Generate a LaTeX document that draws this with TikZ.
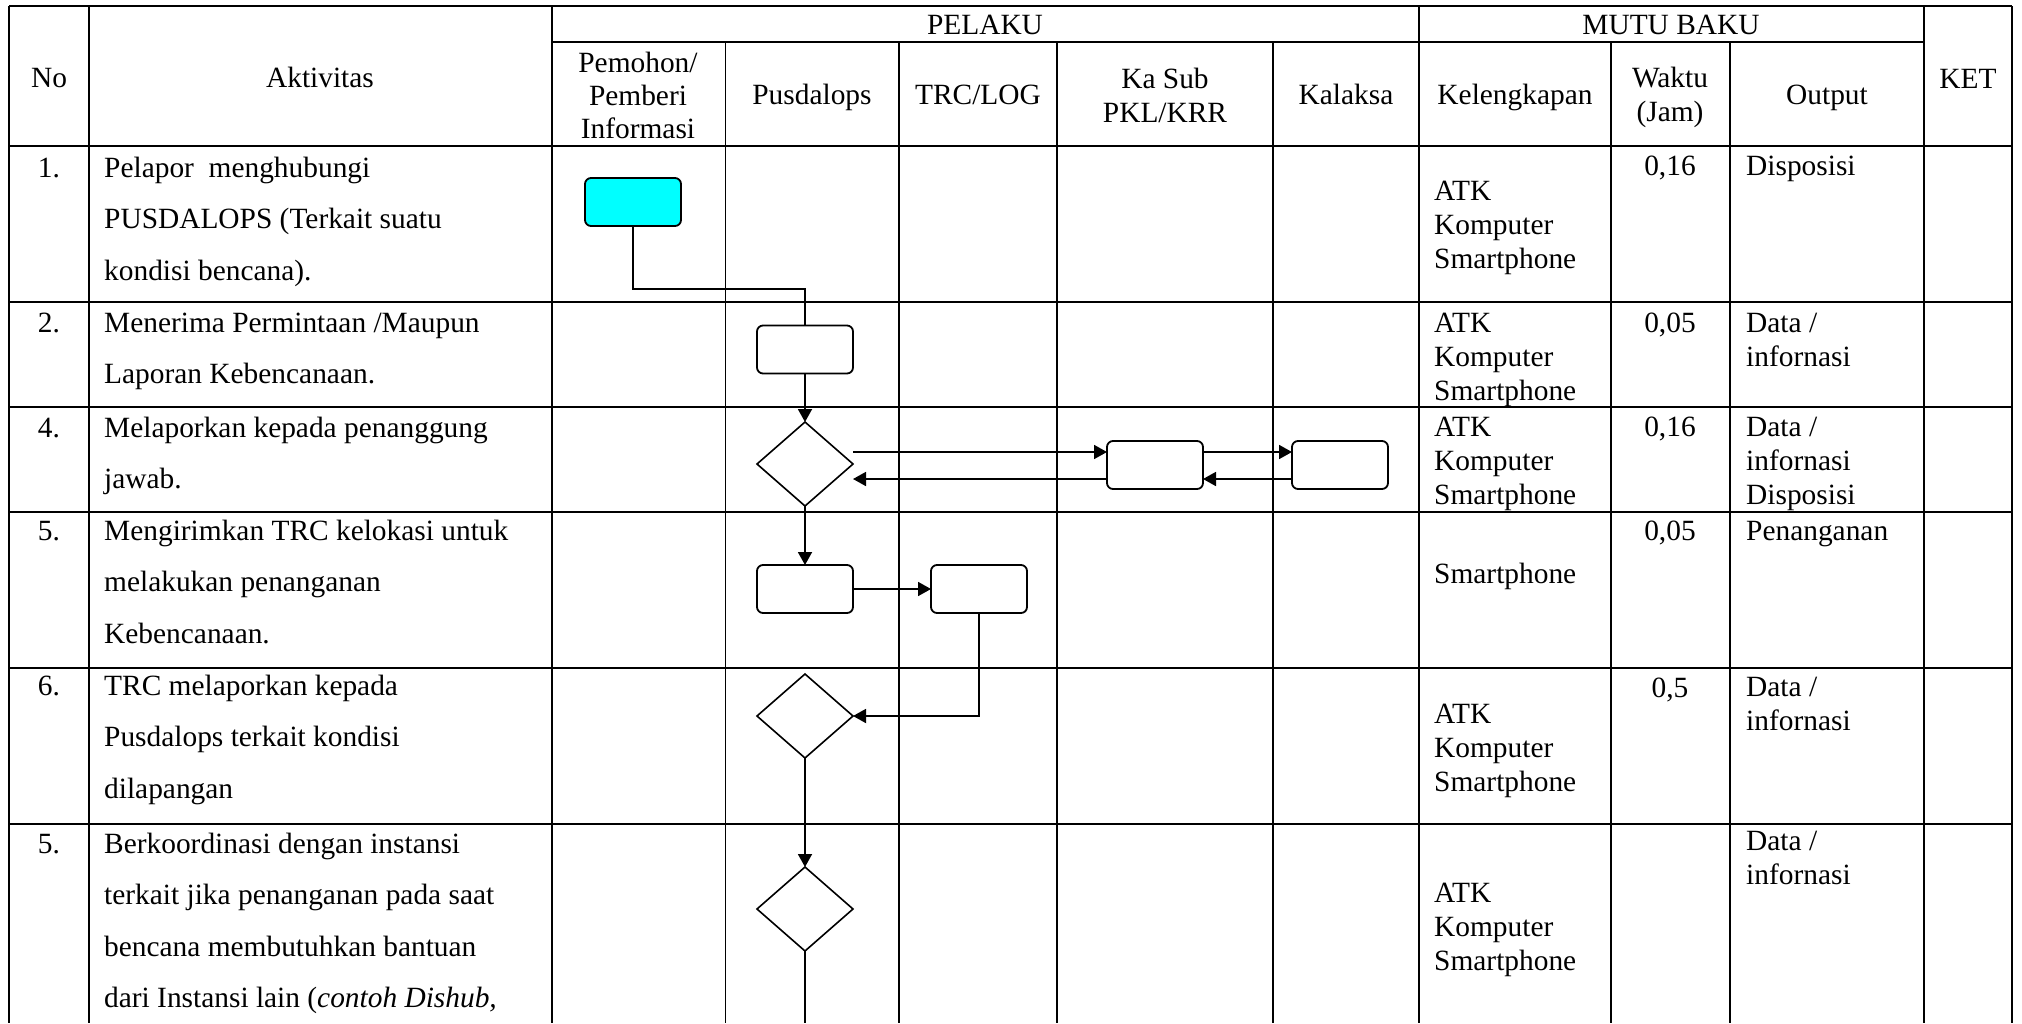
\documentclass[tikz,border=0pt]{standalone}
\usepackage{fontspec}
\setmainfont{Liberation Serif}
\usetikzlibrary{shapes.geometric,arrows.meta,calc}
\definecolor{aqua}{RGB}{0,255,255}
\newcommand{\mylines}[6]{%
  \foreach \t [count=\i from 0] in {#6} \node[#1] (#2-\i) at (#3,{#4+#5*\i}) {\t};}
\begin{document}
\begin{tikzpicture}[x=1bp,y=-1bp,
  grid/.style={line width=1.6bp},
  gridthin/.style={line width=0.9bp},
  hd/.style={font=\fontsize{29.5}{33}\selectfont, inner sep=0pt, anchor=base},
  cell/.style={font=\fontsize{29.5}{34}\selectfont, inner sep=0pt, anchor=base west},
  num/.style={font=\fontsize{29.5}{34}\selectfont, inner sep=0pt, anchor=base},
  proc/.style={draw, line width=1.8bp, rounded corners=6bp, minimum width=96bp, minimum height=48bp, inner sep=0pt, outer sep=0pt},
  dec/.style={draw, diamond, line width=1.6bp, minimum width=96bp, minimum height=84bp, inner sep=0pt, outer sep=0pt},
  arr/.style={line width=1.8bp, -{Triangle[length=13bp,width=14bp]}},
  ln/.style={line width=1.8bp}
]
\fill[white] (0,0) rectangle (2022,1023);
\useasboundingbox (0,0) rectangle (2022,1023);

% ---- table grid ----
\draw[grid] (9,6) -- (2012,6);
\draw[grid] (552,42) -- (1924,42);
\foreach \yy in {146,302,407,512,668,824} \draw[grid] (9,\yy) -- (2012,\yy);
\foreach \xx in {9,89,552,1419,1924,2012} \draw[grid] (\xx,6) -- (\xx,1023);
\foreach \xx in {899,1057,1273,1611,1730} \draw[grid] (\xx,42) -- (\xx,1023);
\draw[gridthin] (725,42) -- (725,1023);

% ---- headers ----
\node[hd] (hNo) at (49,87) {No};
\node[hd] (hAkt) at (320,87) {Aktivitas};
\node[hd] (hPel) at (985,34) {PELAKU};
\node[hd] (hMutu) at (1671,34) {MUTU BAKU};
\node[hd] (hKet) at (1968,88) {KET};
\mylines{hd}{hPem}{638}{72}{33}{Pemohon/,Pemberi,Informasi}
\node[hd] (hPus) at (812,104) {Pusdalops};
\node[hd] (hTrc) at (978,104) {TRC/LOG};
\mylines{hd}{hKa}{1165}{88}{34}{Ka Sub,PKL/KRR}
\node[hd] (hKal) at (1346,104) {Kalaksa};
\node[hd] (hKel) at (1515,104) {Kelengkapan};
\mylines{hd}{hWak}{1670}{87}{34}{Waktu,(Jam)}
\node[hd] (hOut) at (1827,104) {Output};

% ---- row numbers ----
\node[num] (n1) at (49,177) {1.};
\node[num] (n2) at (49,332) {2.};
\node[num] (n3) at (49,437) {4.};
\node[num] (n4) at (49,540) {5.};
\node[num] (n5) at (49,695) {6.};
\node[num] (n6) at (49,853) {5.};

% ---- activities ----
\mylines{cell}{a1}{104}{177}{51.5}{{Pelapor\ \ menghubungi},{PUSDALOPS (Terkait suatu},{kondisi bencana).}}
\mylines{cell}{a2}{104}{332}{51.5}{{Menerima Permintaan /Maupun},{Laporan Kebencanaan.}}
\mylines{cell}{a3}{104}{437}{51.5}{{Melaporkan kepada penanggung},{jawab.}}
\mylines{cell}{a4}{104}{540}{51.5}{{Mengirimkan TRC kelokasi untuk},{melakukan penanganan},{Kebencanaan.}}
\mylines{cell}{a5}{104}{695}{51.5}{{TRC melaporkan kepada},{Pusdalops terkait kondisi},{dilapangan}}
\mylines{cell}{a6}{104}{853}{51.5}{{Berkoordinasi dengan instansi},{terkait jika penanganan pada saat},{bencana membutuhkan bantuan},{dari Instansi lain (\textit{contoh Dishub,}}}

% ---- kelengkapan ----
\mylines{cell}{k1}{1434}{200}{34}{ATK,Komputer,Smartphone}
\mylines{cell}{k2}{1434}{332}{34}{ATK,Komputer,Smartphone}
\mylines{cell}{k3}{1434}{436}{34}{ATK,Komputer,Smartphone}
\node[cell] (k4-0) at (1434,583) {Smartphone};
\mylines{cell}{k5}{1434}{723}{34}{ATK,Komputer,Smartphone}
\mylines{cell}{k6}{1434}{902}{34}{ATK,Komputer,Smartphone}

% ---- waktu ----
\node[num] (w1) at (1670,175) {0,16};
\node[num] (w2) at (1670,332) {0,05};
\node[num] (w3) at (1670,436) {0,16};
\node[num] (w4) at (1670,540) {0,05};
\node[num] (w5) at (1670,697) {0,5};

% ---- output ----
\node[cell] (o1-0) at (1746,175) {Disposisi};
\mylines{cell}{o2}{1746}{332}{34}{Data /,infornasi}
\mylines{cell}{o3}{1746}{436}{34}{Data /,infornasi,Disposisi}
\node[cell] (o4-0) at (1746,540) {Penanganan};
\mylines{cell}{o5}{1746}{696}{34}{Data /,infornasi}
\mylines{cell}{o6}{1746}{850}{34}{Data /,infornasi}

% ---- flow shapes ----
\node[proc, fill=aqua] (c1) at (633,202) {};
\node[proc] (b2) at (805,349.5) {};
\node[dec] (d1) at (805,464) {};
\node[proc] (kasub) at (1155,465) {};
\node[proc] (kalaksa) at (1340,465) {};
\node[proc] (b5a) at (805,589) {};
\node[proc] (b5b) at (979,589) {};
\node[dec] (d2) at (805,716) {};
\node[dec] (d3) at (805,909) {};

% ---- connectors ----
\coordinate (kk) at (805,289);
\draw[ln] (c1.south) |- (kk) -- (b2.north);
\draw[arr] (b2.south) -- (d1.north);
\coordinate (t1) at ($(kasub.west)+(0,-13)$);
\coordinate (t2) at ($(kasub.west)+(0,14)$);
\draw[arr] (d1.east |- t1) -- (t1);
\draw[arr] (kasub.east |- t1) -- (kalaksa.west |- t1);
\draw[arr] (kalaksa.west |- t2) -- (kasub.east |- t2);
\draw[arr] (t2) -- (d1.east |- t2);
\draw[arr] (d1.south) -- (b5a.north);
\draw[arr] (b5a.east) -- (b5b.west);
\draw[arr] (b5b.south) |- (d2.east);
\draw[arr] (d2.south) -- (d3.north);
\coordinate (endc) at (805,1023);
\draw[ln] (d3.south) -- (endc);
\end{tikzpicture}
\end{document}
